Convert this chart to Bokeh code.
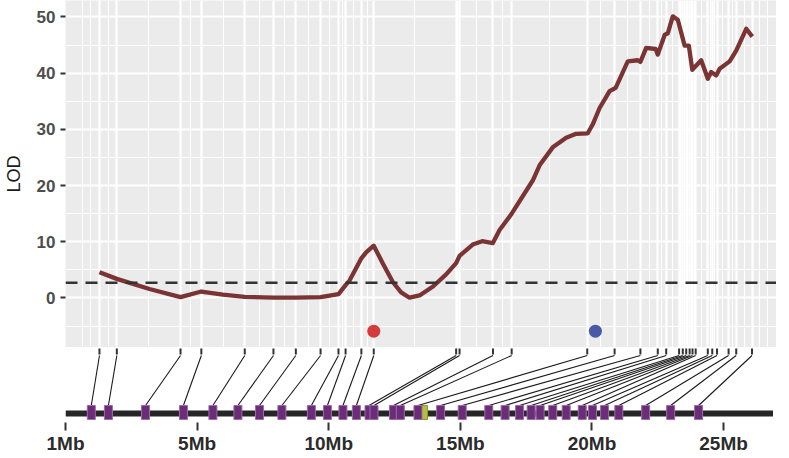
from bokeh.plotting import figure
from bokeh.layouts import column
from bokeh.models import FixedTicker, Span, Range1d
from bokeh.embed import file_html
from bokeh.resources import INLINE

# ---- data ----
# marker positions on the LOD panel's scale (expressed in the map's Mb axis units)
lod_marker_pos = [1.29, 1.95, 4.37, 5.16, 6.81, 7.90, 8.75, 9.69, 10.37, 10.64, 11.24, 11.71,
                  14.84, 14.97, 16.24, 16.95, 19.82, 20.86, 21.84, 22.50, 22.82, 23.31, 23.45,
                  23.58, 23.71, 23.82, 23.94, 24.40, 24.57, 24.75, 25.19, 25.48, 26.08]
# physical positions of the same markers (Mb)
map_pos_mb = [0.98, 1.63, 3.04, 4.48, 5.60, 6.55, 7.37, 8.22, 9.34, 9.95, 10.54, 11.05,
              11.53, 11.72, 12.46, 12.72, 13.39, 14.25, 15.07, 16.08, 16.70, 17.25, 17.69,
              18.03, 18.51, 19.02, 19.63, 20.02, 20.48, 21.02, 22.04, 22.99, 24.05]
highlight_mb = [13.64]
chrom_start_mb = 0.0
chrom_end_mb = 27.43

# LOD curve
lod_x = [1.29, 1.95, 3.19, 4.37, 5.16, 5.98, 6.81, 7.90, 8.75, 9.69, 10.37, 10.64, 10.79,
         11.23, 11.42, 11.71, 12.06, 12.44, 12.75, 13.07, 13.45, 13.96, 14.46, 14.84, 14.97,
         15.47, 15.83, 16.23, 16.49, 16.95, 17.75, 18.01, 18.51, 19.02, 19.40, 19.84, 20.03,
         20.29, 20.67, 20.90, 21.36, 21.74, 21.84, 22.06, 22.42, 22.50, 22.76, 22.88, 23.07,
         23.26, 23.52, 23.68, 23.81, 24.15, 24.40, 24.53, 24.72, 24.85, 25.23, 25.48, 25.86,
         26.09]
lod_y = [4.6, 3.4, 1.6, 0.15, 1.15, 0.6, 0.2, 0.05, 0.05, 0.15, 0.7, 2.3, 3.1,
         7.0, 8.1, 9.3, 6.1, 2.8, 1.0, 0.05, 0.45, 2.05, 4.2, 6.2, 7.5,
         9.5, 10.1, 9.75, 12.1, 15.0, 20.9, 23.6, 26.8, 28.5, 29.2, 29.3, 30.9,
         33.8, 36.8, 37.4, 42.1, 42.3, 42.0, 44.5, 44.3, 43.3, 46.8, 47.1, 50.1,
         49.5, 44.9, 44.9, 40.6, 42.3, 39.0, 40.2, 39.6, 40.8, 42.1, 44.0, 47.9,
         46.5]
threshold = 2.7
peak_x = [11.71, 20.13]
peak_y = [-5.9, -5.9]
peak_colors = ["#D63B3B", "#4A58A8"]

y_ticks = [0, 10, 20, 30, 40, 50]
y_minor = [-5, 5, 15, 25, 35, 45]
map_ticks = [0, 5, 10, 15, 20, 25]
map_tick_labels = ["1Mb", "5Mb", "10Mb", "15Mb", "20Mb", "25Mb"]

# ---- layout ----
X0, X1 = 0.0, 27.01
FONT = "Liberation Sans"

# minor grid lines at the midpoints (plus one step outside), ggplot style
ext = [lod_marker_pos[0] - (lod_marker_pos[1] - lod_marker_pos[0])] + lod_marker_pos + \
      [lod_marker_pos[-1] + (lod_marker_pos[-1] - lod_marker_pos[-2])]
x_minor = [(a + b) / 2 for a, b in zip(ext[:-1], ext[1:])] + [ext[0], ext[-1]]

p1 = figure(frame_width=711, frame_height=347, x_range=Range1d(X0, X1),
            y_range=Range1d(-8.81, 52.93), output_backend="svg", toolbar_location=None,
            min_border_left=62, min_border_right=0, min_border_top=0, min_border_bottom=0)
p1.background_fill_color = "#EBEBEB"
p1.outline_line_color = None
p1.xaxis.visible = False

p1.xgrid.ticker = FixedTicker(ticks=lod_marker_pos, minor_ticks=x_minor)
p1.ygrid.ticker = FixedTicker(ticks=y_ticks, minor_ticks=y_minor)
for g in (p1.xgrid, p1.ygrid):
    g.grid_line_color = "white"
    g.grid_line_width = 2.2
    g.minor_grid_line_color = "white"
    g.minor_grid_line_width = 1.1

ya = p1.yaxis[0]
ya.ticker = FixedTicker(ticks=y_ticks)
ya.axis_line_color = None
ya.major_tick_line_color = "#333333"
ya.major_tick_line_width = 2
ya.major_tick_out = 5
ya.major_tick_in = 0
ya.minor_tick_line_color = None
ya.major_label_text_font = FONT
ya.major_label_text_font_size = "17px"
ya.major_label_text_font_style = "bold"
ya.major_label_text_color = "#4D4D4D"
ya.major_label_standoff = 5
ya.axis_label = "LOD"
ya.axis_label_text_font = FONT
ya.axis_label_text_font_size = "18px"
ya.axis_label_text_font_style = "normal"
ya.axis_label_text_color = "#1A1A1A"
ya.axis_label_standoff = 10

p1.add_layout(Span(location=threshold, dimension="width", line_color="#333333",
                   line_width=2.5, line_dash="12 8"))
p1.line(lod_x, lod_y, line_color="#7B3434", line_width=4.3, line_join="round")
p1.scatter(peak_x, peak_y, size=13, fill_color=peak_colors, line_color=None)

# ---- genetic / physical map ----
p2 = figure(frame_width=711, frame_height=75, x_range=p1.x_range,
            y_range=Range1d(75, 0), output_backend="svg", toolbar_location=None,
            min_border_left=62, min_border_right=0, min_border_top=0, min_border_bottom=0)
p2.outline_line_color = None
p2.xgrid.visible = False
p2.ygrid.visible = False
p2.yaxis.visible = False

n = len(lod_marker_pos)
p2.segment(x0=lod_marker_pos, y0=[1] * n, x1=lod_marker_pos, y1=[7] * n,
           line_color="#333333", line_width=2)
p2.segment(x0=lod_marker_pos, y0=[8] * n, x1=map_pos_mb, y1=[58] * n,
           line_color="#1A1A1A", line_width=1.1)
p2.line([chrom_start_mb, chrom_end_mb], [66, 66], line_color="#262626", line_width=6)
p2.rect(x=highlight_mb, y=[65], width=6, height=14, width_units="screen",
        height_units="screen", fill_color="#B3BF3C", line_color="#8E9A2E", line_width=1)
p2.rect(x=map_pos_mb, y=[65] * n, width=8, height=14, width_units="screen",
        height_units="screen", fill_color="#6B2C78", line_color="#9C6BA8", line_width=1)

xa = p2.xaxis[0]
xa.ticker = FixedTicker(ticks=map_ticks)
xa.major_label_overrides = {t: l for t, l in zip(map_ticks, map_tick_labels)}
xa.axis_line_color = None
xa.major_tick_line_color = "#333333"
xa.major_tick_line_width = 2
xa.major_tick_in = 0
xa.major_tick_out = 8
xa.minor_tick_line_color = None
xa.major_label_standoff = 2
xa.major_label_text_font = FONT
xa.major_label_text_font_size = "19px"
xa.major_label_text_font_style = "bold"
xa.major_label_text_color = "#2B2B2B"

layout = column(p1, p2, spacing=0)
open("out.html", "w").write(file_html(layout, INLINE))
